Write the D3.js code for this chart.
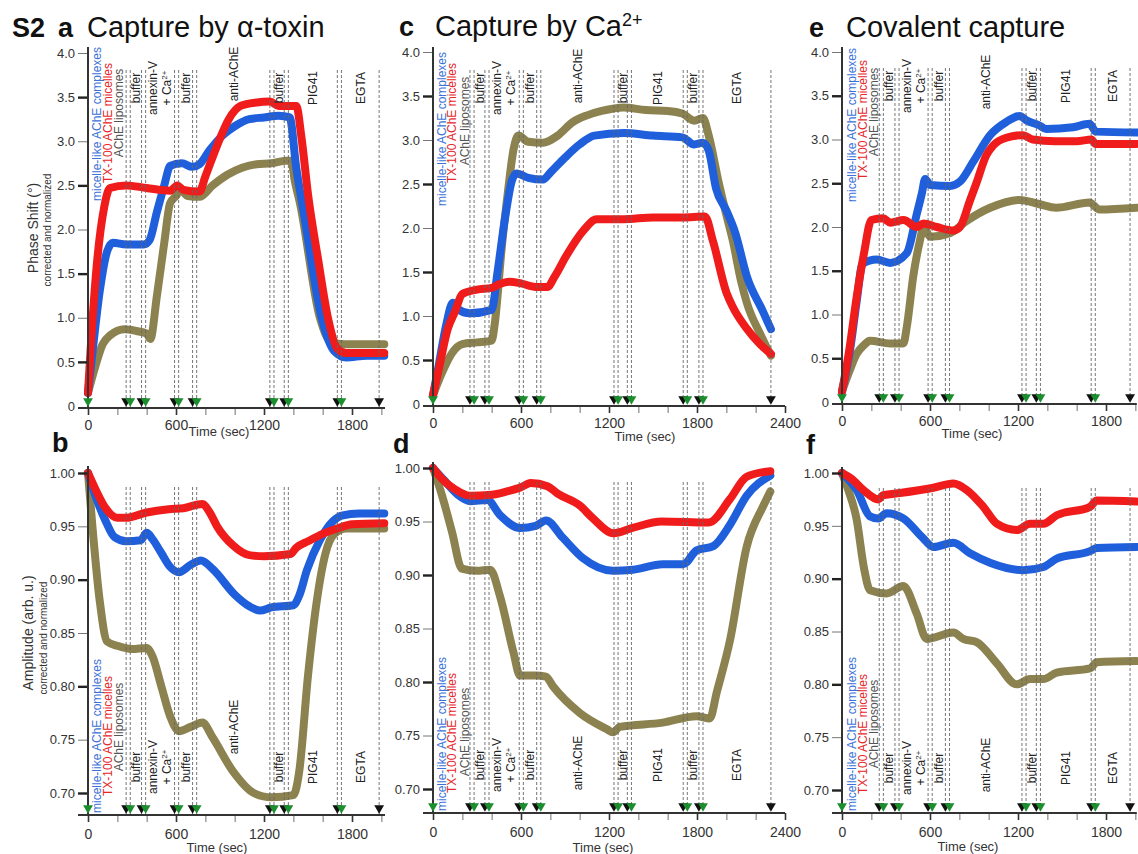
<!DOCTYPE html>
<html>
<head>
<meta charset="utf-8">
<script src="https://cdnjs.cloudflare.com/ajax/libs/d3/7.8.5/d3.min.js"></script>
<style>
  body { margin: 0; background: #fff; }
  svg { font-family: "Liberation Sans", Arial, sans-serif; }
</style>
</head>
<body>
<svg id="fig" width="1138" height="854"></svg>
<script>
'use strict';

// ---- data: [time (s), value] ----
// a: phase shift, capture by alpha-toxin
const aOlive = [[0,0.15],[50,0.45],[100,0.7],[150,0.8],[250,0.87],[330,0.85],[400,0.82],[425,0.76],[470,1.25],[520,1.85],[560,2.3],[600,2.38],[630,2.45],[680,2.38],[760,2.37],[850,2.5],[950,2.62],[1050,2.7],[1150,2.74],[1250,2.75],[1350,2.78],[1385,2.78],[1410,2.55],[1445,2.3],[1581,1.0],[1660,0.72],[1750,0.7],[2020,0.7]];
const aBlue  = [[0,0.15],[30,0.6],[80,1.3],[130,1.75],[170,1.85],[260,1.83],[380,1.83],[420,1.88],[470,2.2],[520,2.5],[560,2.72],[640,2.75],[710,2.71],[760,2.74],[830,2.9],[920,3.07],[1000,3.17],[1100,3.25],[1200,3.27],[1300,3.29],[1375,3.27],[1420,2.7],[1470,2.2],[1593,1.0],[1680,0.62],[1760,0.55],[1900,0.57],[2020,0.57]];
const aRed   = [[0,0.15],[20,0.7],[60,1.6],[110,2.25],[150,2.47],[260,2.5],[400,2.47],[560,2.44],[610,2.5],[650,2.45],[760,2.43],[800,2.6],[880,2.95],[960,3.25],[1040,3.4],[1150,3.44],[1240,3.45],[1300,3.4],[1420,3.4],[1455,3.05],[1500,2.4],[1570,1.65],[1636,1.0],[1700,0.65],[1760,0.6],[2020,0.6]];
// b: amplitude, capture by alpha-toxin
const bOlive = [[0,1.0],[30,0.95],[80,0.88],[130,0.842],[200,0.838],[300,0.835],[400,0.836],[440,0.828],[500,0.8],[560,0.772],[620,0.758],[700,0.762],[780,0.766],[850,0.752],[990,0.72],[1130,0.7],[1250,0.696],[1400,0.698],[1440,0.72],[1500,0.81],[1560,0.88],[1620,0.925],[1680,0.943],[1760,0.948],[2020,0.948]];
const bBlue  = [[0,1.0],[60,0.975],[120,0.955],[180,0.94],[260,0.936],[360,0.937],[400,0.944],[440,0.938],[500,0.925],[560,0.912],[620,0.907],[700,0.914],[770,0.918],[850,0.91],[1000,0.886],[1100,0.875],[1173,0.871],[1250,0.874],[1400,0.876],[1440,0.885],[1493,0.909],[1581,0.937],[1672,0.955],[1730,0.96],[1850,0.962],[2020,0.962]];
const bRed   = [[0,1.0],[50,0.985],[120,0.967],[200,0.958],[260,0.958],[400,0.963],[550,0.966],[650,0.967],[780,0.971],[830,0.963],[880,0.95],[990,0.932],[1100,0.923],[1200,0.922],[1380,0.924],[1420,0.93],[1500,0.936],[1600,0.943],[1700,0.948],[1800,0.952],[2020,0.953]];
// c: phase shift, capture by Ca2+
const cOlive = [[0,0.1],[60,0.35],[130,0.58],[200,0.68],[300,0.7],[400,0.72],[420,0.9],[470,1.8],[510,2.4],[550,2.9],[582,3.05],[650,2.98],[750,2.97],[850,3.05],[950,3.2],[1050,3.28],[1150,3.33],[1300,3.37],[1450,3.34],[1600,3.33],[1700,3.3],[1780,3.22],[1840,3.25],[1880,3.05],[1950,2.5],[2000,2.15],[2045,1.85],[2100,1.4],[2140,1.15],[2230,0.8],[2304,0.55]];
const cBlue  = [[0,0.1],[40,0.45],[90,0.9],[135,1.15],[170,1.08],[250,1.03],[400,1.07],[440,1.5],[490,2.1],[540,2.55],[570,2.62],[650,2.57],[750,2.55],[800,2.63],[900,2.8],[1000,2.95],[1100,3.05],[1300,3.08],[1500,3.05],[1700,3.03],[1780,2.95],[1840,2.97],[1880,2.88],[1930,2.45],[2000,2.2],[2060,1.95],[2140,1.45],[2250,1.05],[2304,0.85]];
const cRed   = [[0,0.1],[40,0.4],[100,0.85],[150,1.05],[200,1.25],[300,1.3],[400,1.32],[450,1.36],[520,1.39],[600,1.37],[700,1.33],[780,1.33],[830,1.45],[911,1.69],[1025,1.97],[1116,2.1],[1300,2.1],[1500,2.12],[1700,2.12],[1854,2.13],[1909,1.85],[2002,1.26],[2045,1.1],[2138,0.86],[2230,0.68],[2304,0.57]];
// d: amplitude, capture by Ca2+
const dOlive = [[0,1.0],[60,0.975],[130,0.94],[196,0.906],[300,0.904],[389,0.905],[457,0.88],[548,0.828],[593,0.806],[700,0.806],[770,0.805],[818,0.796],[1002,0.771],[1184,0.756],[1227,0.753],[1273,0.758],[1566,0.762],[1798,0.768],[1888,0.766],[1934,0.79],[2025,0.839],[2138,0.926],[2250,0.964],[2300,0.978]];
const dBlue  = [[0,1.0],[80,0.988],[170,0.975],[255,0.969],[370,0.97],[457,0.956],[593,0.944],[700,0.946],[770,0.951],[884,0.935],[1020,0.916],[1227,0.904],[1363,0.905],[1566,0.91],[1706,0.91],[1798,0.923],[1911,0.927],[2025,0.947],[2138,0.974],[2300,0.993]];
const dRed   = [[0,1.0],[60,0.99],[150,0.98],[252,0.974],[400,0.975],[500,0.978],[600,0.982],[666,0.986],[780,0.983],[850,0.976],[1000,0.965],[1090,0.953],[1230,0.939],[1360,0.944],[1560,0.95],[1880,0.949],[2025,0.971],[2140,0.992],[2300,0.997]];
// e: phase shift, covalent capture
const eOlive = [[0,0.12],[50,0.35],[100,0.55],[150,0.65],[190,0.7],[328,0.67],[419,0.67],[441,0.85],[487,1.45],[532,1.85],[555,2.0],[601,1.89],[737,1.93],[850,2.07],[1010,2.22],[1211,2.31],[1347,2.26],[1460,2.22],[1687,2.28],[1755,2.2],[2010,2.22]];
const eBlue  = [[0,0.12],[60,0.65],[100,1.15],[140,1.58],[236,1.63],[328,1.59],[441,1.7],[510,2.15],[544,2.38],[567,2.55],[601,2.48],[737,2.47],[805,2.52],[896,2.75],[1010,3.05],[1120,3.2],[1211,3.27],[1256,3.22],[1347,3.16],[1392,3.12],[1574,3.14],[1687,3.18],[1732,3.09],[2010,3.08]];
const eRed   = [[0,0.12],[50,0.6],[100,1.2],[150,1.7],[200,2.08],[280,2.1],[330,2.05],[420,2.08],[510,2.0],[555,2.04],[646,2.0],[759,1.96],[804,2.0],[872,2.3],[916,2.5],[984,2.82],[1030,2.93],[1120,3.02],[1234,3.05],[1300,3.0],[1450,2.98],[1600,2.98],[1700,3.0],[1730,2.95],[2010,2.95]];
// f: amplitude, covalent capture
const fOlive = [[0,1.0],[40,0.985],[100,0.956],[150,0.91],[191,0.889],[304,0.886],[418,0.893],[509,0.867],[577,0.843],[759,0.849],[827,0.843],[918,0.84],[1055,0.82],[1191,0.8],[1282,0.805],[1373,0.805],[1464,0.811],[1691,0.815],[1737,0.821],[2010,0.822]];
const fBlue  = [[0,1.0],[100,0.984],[191,0.959],[248,0.957],[304,0.962],[418,0.957],[555,0.938],[623,0.93],[759,0.934],[873,0.924],[1009,0.915],[1236,0.908],[1373,0.911],[1464,0.919],[1691,0.926],[1737,0.929],[2010,0.93]];
const fRed   = [[0,1.0],[60,0.995],[145,0.984],[248,0.975],[282,0.979],[395,0.981],[623,0.986],[759,0.99],[850,0.984],[964,0.968],[1055,0.952],[1191,0.946],[1282,0.952],[1373,0.952],[1464,0.96],[1691,0.968],[1737,0.974],[2010,0.973]];

// injection times (black arrow), green arrow follows each one
const eventsA = [260, 365, 590, 713, 1240, 1338, 1700, 1985];
const eventsC = [252, 354, 588, 707, 1234, 1325, 1706, 1813, 2304];
const eventsE = [254, 361, 587, 705, 1227, 1325, 1699, 1964];
const labelsA = ['buffer', 'annexin', 'buffer', 'anti-AChE', 'buffer', 'PIG41', 'EGTA'];
const labelsC = ['buffer', 'annexin', 'buffer', 'anti-AChE', 'buffer', 'PIG41', 'buffer', 'EGTA'];
const labelsE = ['buffer', 'annexin', 'buffer', 'anti-AChE', 'buffer', 'PIG41', 'EGTA'];
const legendNames = ['micelle-like AChE complexes', 'TX-100 AChE micelles', 'AChE liposomes'];
const phaseTicks = [0, 0.5, 1.0, 1.5, 2.0, 2.5, 3.0, 3.5, 4.0];
const ampTicks = [0.70, 0.75, 0.80, 0.85, 0.90, 0.95, 1.00];

// ---- layout / style ----
const K = 88 / 600;          // px per second
const GREEN_LAG = 28;        // s between black and green arrow
const traceColors = ['#8c8250', '#1f5fdc', '#f01c1c'];      // olive, blue, red
const legendColors = ['#3b72d8', '#e8262a', '#555555'];      // blue, red, gray

const colA = { x0: 88,  tMax: 2025, events: eventsA, labels: labelsA };
const colC = { x0: 433, tMax: 2400, events: eventsC, labels: labelsC };
const colE = { x0: 842, tMax: 2010, events: eventsE, labels: labelsE };

const panels = [
  { col: colA, top: true, series: [aOlive, aBlue, aRed], yr: [406, 53], axisY: 408, yTop: 47, dashTop: 70,
    labY: 88, antiY: 74, legX: [9, 20, 31], legY: [124, 123, 113], time: [219, 436] },
  { col: colC, top: true, series: [cOlive, cBlue, cRed], yr: [404, 52], axisY: 406, yTop: 47, dashTop: 70,
    labY: 88, antiY: 76, legX: [9, 19, 32], legY: [129, 123, 121], time: [645, 441] },
  { col: colE, top: true, series: [eOlive, eBlue, eRed], yr: [402, 52], axisY: 404, yTop: 47, dashTop: 68,
    labY: 86, antiY: 82, legX: [10, 21, 32], legY: [125, 120, 112], time: [972, 438] },
  { col: colA, top: false, series: [bOlive, bBlue, bRed], yr: [793, 473], axisY: 815, yTop: 466, dashTop: 487,
    labY: 767, antiY: 727, legX: [9, 20, 31], legY: [736, 736, 727], time: [217, 852] },
  { col: colC, top: false, series: [dOlive, dBlue, dRed], yr: [789, 468], axisY: 813, yTop: 462, dashTop: 482,
    labY: 765, antiY: 763, legX: [9, 19, 32], legY: [734, 733, 732], time: [603, 852] },
  { col: colE, top: false, series: [fOlive, fBlue, fRed], yr: [790, 473], axisY: 813, yTop: 467, dashTop: 488,
    labY: 768, antiY: 765, legX: [10, 21, 32], legY: [734, 734, 724], time: [968, 851] }
];

const fig = d3.select('#fig');

// vertical (rotated) text, cx/cy = visual centre
function vtext(g, cx, cy, size, color) {
  return g.append('text')
    .attr('transform', `translate(${cx + size * 0.36},${cy}) rotate(-90)`)
    .attr('text-anchor', 'middle')
    .attr('font-size', size)
    .attr('fill', color);
}

function drawPanel(p) {
  const g = fig.append('g');
  const c = p.col;
  const x = d3.scaleLinear().domain([0, c.tMax]).range([c.x0, c.x0 + c.tMax * K]);
  const y = d3.scaleLinear().domain(p.top ? [0, 4] : [0.70, 1.00]).range(p.yr);

  // traces
  const line = d3.line().x(d => x(d[0])).y(d => y(d[1])).curve(d3.curveMonotoneX);
  p.series.forEach((s, i) => {
    g.append('path')
      .attr('d', line(s))
      .attr('fill', 'none')
      .attr('stroke', traceColors[i])
      .attr('stroke-width', 8)
      .attr('stroke-linejoin', 'round')
      .attr('stroke-linecap', 'round');
  });

  // dashed event lines
  const evLines = [];
  c.events.forEach((t, i) => {
    evLines.push(t);
    if (i < c.events.length - 1) evLines.push(t + GREEN_LAG);
  });
  g.selectAll('line.ev').data(evLines).join('line')
    .attr('class', 'ev')
    .attr('x1', d => x(d)).attr('x2', d => x(d))
    .attr('y1', p.dashTop).attr('y2', p.axisY)
    .attr('stroke', '#666')
    .attr('stroke-width', 0.9)
    .attr('stroke-dasharray', '3,2');

  // y axis
  const isThick = d => p.top ? Math.round(d * 2) % 2 === 1 : Math.round(d * 100) % 10 === 0;
  const yAxis = d3.axisLeft(y)
    .tickValues(p.top ? phaseTicks : ampTicks)
    .tickSize(10).tickPadding(3)
    .tickFormat(d => p.top ? (d === 0 ? '0' : d3.format('.1f')(d)) : d3.format('.2f')(d));
  const yg = g.append('g').attr('transform', `translate(${c.x0},0)`).call(yAxis);
  yg.select('.domain').remove();
  yg.selectAll('text').attr('font-size', 13).attr('fill', '#333');
  yg.selectAll('.tick line')
    .attr('stroke', d => isThick(d) ? '#222' : '#777')
    .attr('stroke-width', d => isThick(d) ? 2.4 : 1)
    .attr('opacity', d => d === 0 ? 0 : 1);
  g.append('line')
    .attr('x1', c.x0).attr('x2', c.x0)
    .attr('y1', p.yTop).attr('y2', p.axisY)
    .attr('stroke', '#333').attr('stroke-width', 2);

  // x axis
  const xAxis = d3.axisBottom(x)
    .tickValues(d3.range(0, c.tMax + 1, 200))
    .tickSize(7).tickPadding(p.top ? 5 : 7)
    .tickFormat(d => d % 600 === 0 ? d : '');
  const xg = g.append('g').attr('transform', `translate(0,${p.axisY})`).call(xAxis);
  xg.select('.domain').remove();
  xg.selectAll('text').attr('font-size', 14).attr('fill', '#333');
  xg.selectAll('.tick line')
    .attr('stroke', d => d % 600 === 0 ? '#333' : '#888')
    .attr('stroke-width', d => d % 600 === 0 ? 1.6 : 1.2);
  g.append('line')
    .attr('x1', c.x0 - 10).attr('x2', x(c.tMax))
    .attr('y1', p.axisY).attr('y2', p.axisY)
    .attr('stroke', '#333').attr('stroke-width', 2);

  g.append('text')
    .attr('x', p.time[0]).attr('y', p.time[1])
    .attr('text-anchor', 'middle').attr('font-size', 13).attr('fill', '#333')
    .text('Time (sec)');

  // injection arrows
  const arrows = [{ t: 0, c: 'g' }];
  c.events.forEach((t, i) => {
    arrows.push({ t: t, c: 'k' });
    if (i < c.events.length - 1) arrows.push({ t: t + GREEN_LAG, c: 'g' });
  });
  const tri = d3.symbol(d3.symbolTriangle, 42);
  g.selectAll('path.arrow').data(arrows).join('path')
    .attr('class', 'arrow')
    .attr('d', tri)
    .attr('transform', d => `translate(${x(d.t)},${p.axisY - 7}) rotate(180)`)
    .attr('fill', d => d.c === 'g' ? '#1b8f2e' : '#111');

  // event labels between injections
  c.labels.forEach((lab, i) => {
    const mid = x(((c.events[i] + GREEN_LAG) + c.events[i + 1]) / 2);
    if (lab === 'annexin') {
      vtext(g, mid - 7, p.labY, 12, '#222').text('annexin-V');
      const t2 = vtext(g, mid + 7, p.labY, 12, '#222');
      t2.append('tspan').text('+ Ca');
      t2.append('tspan').attr('dy', -4).attr('font-size', 8).text('2+');
    } else {
      vtext(g, mid, lab === 'anti-AChE' ? p.antiY : p.labY, 12, '#222').text(lab);
    }
  });

  // legend (rotated)
  legendNames.forEach((name, i) => {
    vtext(g, c.x0 + p.legX[i], p.legY[i], 12, legendColors[i]).text(name);
  });
}

panels.forEach(drawPanel);

// y-axis titles
vtext(fig, 33, 228, 14, '#333').text('Phase Shift (°)');
vtext(fig, 47, 230, 10, '#333').text('corrected and normalized');
vtext(fig, 28, 633, 14, '#333').text('Amplitude (arb. u.)');
vtext(fig, 43, 638, 10, '#333').text('corrected and normalized');

// panel letters and titles
const bold = (x, y, s) => fig.append('text').attr('x', x).attr('y', y)
  .attr('font-size', 27).attr('font-weight', 'bold').attr('fill', '#111').text(s);
bold(12, 37, 'S2');
bold(58, 37, 'a');
bold(399, 36, 'c');
bold(809, 37, 'e');
bold(52, 452, 'b');
bold(393, 453, 'd');
bold(806, 454, 'f');

const title = (x, y) => fig.append('text').attr('x', x).attr('y', y)
  .attr('font-size', 29).attr('fill', '#111');
title(87, 37).text('Capture by α-toxin');
const tc = title(435, 36);
tc.append('tspan').text('Capture by Ca');
tc.append('tspan').attr('dy', -10).attr('font-size', 18).text('2+');
title(846, 37).text('Covalent capture');
</script>
</body>
</html>
